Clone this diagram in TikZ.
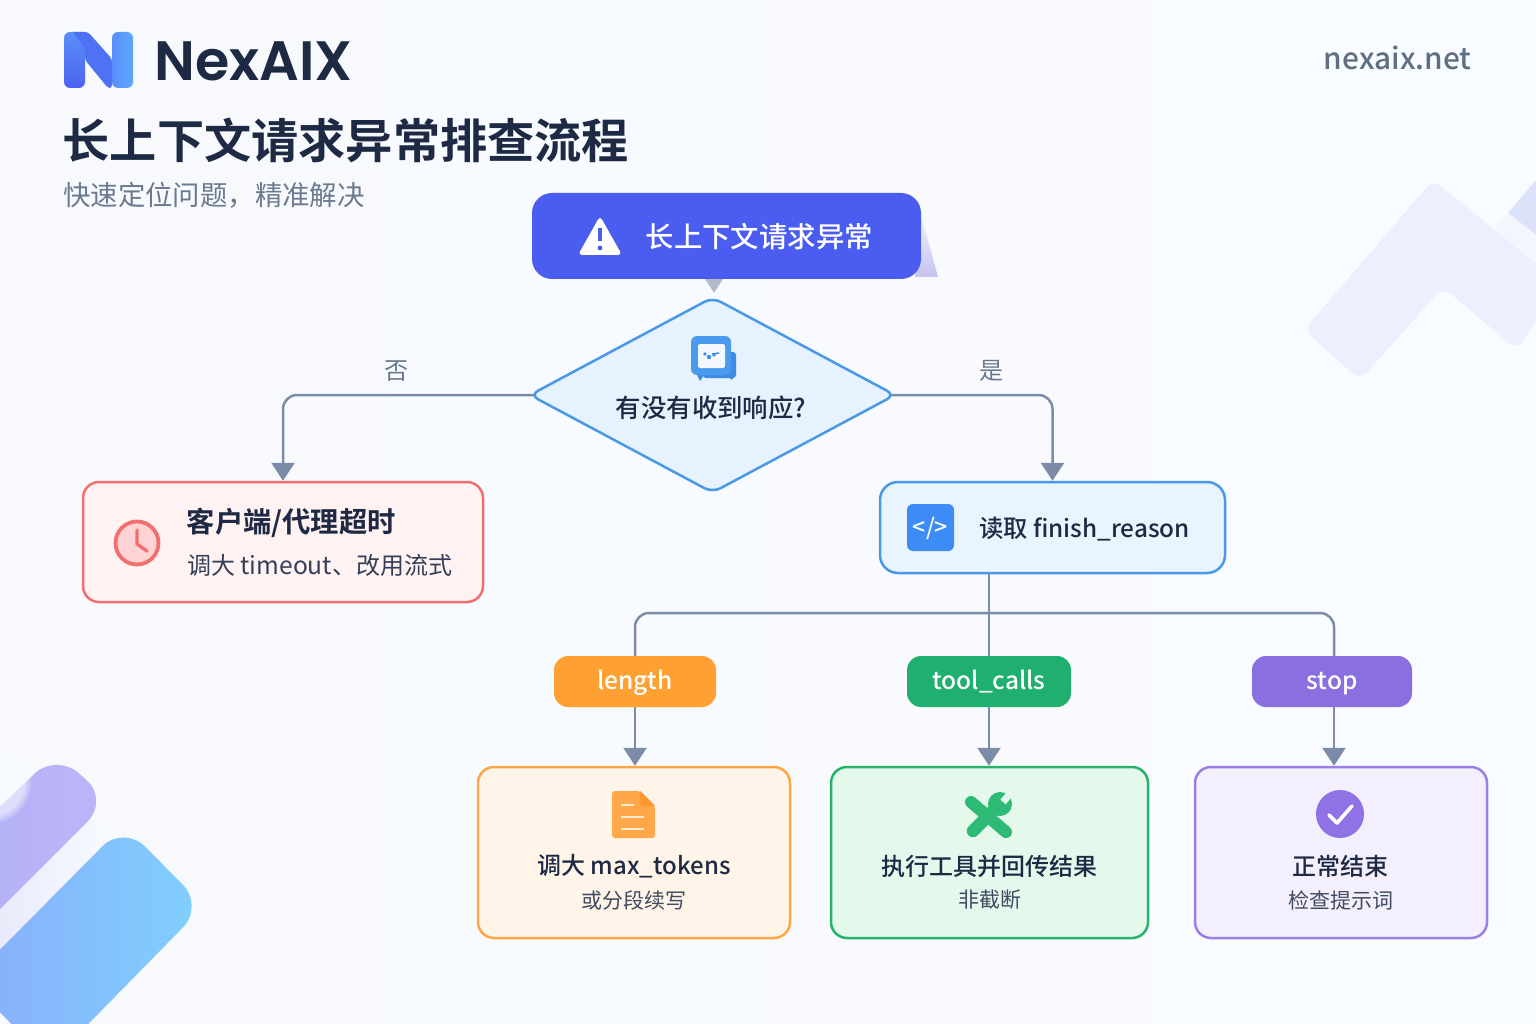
\documentclass[tikz,border=0pt]{standalone}
\usepackage{fontspec}
\usetikzlibrary{arrows.meta,shapes.geometric,calc,fadings}
\setmainfont{Noto Sans CJK SC}[BoldFont={Noto Sans CJK SC Bold}]
\newfontfamily\cjkm{Noto Sans CJK SC Medium}
\newfontfamily\logofont{Poppins SemiBold}
\newcommand{\hexc}[1]{\definecolor{#1}{HTML}{#1}}
\hexc{F7F9FD}\hexc{F8FBFF}\hexc{ECEFFD}\hexc{DDE2FB}\hexc{F4F6FE}\hexc{E9EAFB}
\hexc{AEAEF8}\hexc{BDB5F8}\hexc{C6C2F1}\hexc{F0F0FC}\hexc{3E8BE6}\hexc{4A9BEE}\hexc{F2F8FE}
\hexc{FFD3D3}\hexc{EAF4FE}\hexc{3D8BF5}\hexc{FFA033}\hexc{1FAF6E}\hexc{8B6FE0}
\hexc{FFA84A}\hexc{FF9630}\hexc{FFE9CF}\hexc{2DBA74}\hexc{8F72E6}
\hexc{4C63F0}\hexc{5A90F8}\hexc{5A8FFA}\hexc{5BA9FF}\hexc{4F72F4}
\definecolor{BL}{HTML}{88AEFB}\definecolor{BR}{HTML}{80D0FE}
\definecolor{ink}{HTML}{1E2A44}
\definecolor{subgrey}{HTML}{6B7A90}
\definecolor{lineblue}{HTML}{7C8CA8}
\definecolor{startblue}{HTML}{4A5DF0}
\definecolor{dfill}{HTML}{E6F2FD}
\definecolor{dline}{HTML}{4A98E8}
\definecolor{rfill}{HTML}{FFF2F2}
\definecolor{rline}{HTML}{F07070}
\definecolor{ofill}{HTML}{FFF4E8}
\definecolor{oline}{HTML}{FFA645}
\definecolor{gfill}{HTML}{E4F8EC}
\definecolor{gline}{HTML}{27B26E}
\definecolor{pfill}{HTML}{F3EFFD}
\definecolor{pline}{HTML}{9B7FE3}
\pgfdeclarelayer{back}\pgfdeclarelayer{conn}
\pgfsetlayers{back,conn,main}
\newcommand{\pilltext}[1]{\raisebox{-8pt}[0pt][0pt]{#1}}
\tikzset{
  conn/.style={draw=lineblue,line width=2.5pt,rounded corners=14pt},
  arr/.style={conn,-{Triangle[length=18pt,width=23pt]}},
  card/.style={rectangle,draw,line width=2.5pt,inner sep=0pt,rounded corners=16pt},
  pill/.style={rectangle,inner sep=0pt,rounded corners=14pt,minimum height=51pt,text=white,font=\cjkm\fontsize{24.5}{25}\selectfont},
  txt/.style={inner sep=0pt,text=ink},
  head/.style={txt,font=\cjkm\fontsize{24}{24}\selectfont},
  note/.style={txt,text=ink!85,font=\fontsize{21}{21}\selectfont},
  branch/.style={inner sep=0pt,text=lineblue!85!black,font=\fontsize{24}{24}\selectfont},
}
\begin{document}
\begin{tikzpicture}[x=1pt,y=-1pt]
\useasboundingbox (0,0) rectangle (1536,1024);
\begin{pgfonlayer}{back}
\begin{scope}
\clip (0,0) rectangle (1536,1024);
\shade[left color=F7F9FD,right color=F8FBFF] (0,0) rectangle (1536,1024);
% top-right decoration
\fill[fill=ECEFFD,rounded corners=10pt] (1433,180) -- (1560,283) -- (1517,350) -- (1443,287) -- (1360,380) -- (1304,330) -- cycle;
\fill[fill=DDE2FB] (1508,213) -- (1536,180) -- (1536,235) -- cycle;
\fill[fill=F4F6FE] (1495,229) -- (1508,213) -- (1536,235) -- (1536,262) -- cycle;
% bottom-left decoration
\shade[left color=E9EAFB,right color=F8FBFF] (0,903) -- (88,815) -- (112,838) -- (0,953) -- cycle;
\shade[left color=AEAEF8,right color=BDB5F8,rounded corners=30pt] (56,753) -- (109,800) -- (-51,960) -- (-106,909) -- cycle;
\fill[F8FBFF,path fading=circle with fuzzy edge 20 percent,opacity=.6] (-10,782) circle (42);
\shade[left color=BL,right color=BR,rounded corners=30pt] (123.5,825) -- (204,906) -- (50,1063) -- (-31,981) -- cycle;
\end{scope}
\end{pgfonlayer}

% start node
\shade[top color=F0F0FC,bottom color=C6C2F1] (921,215) -- (938,277) -- (915,277) -- cycle;
\node[rectangle,fill=startblue,rounded corners=20pt,minimum width=389pt,minimum height=86pt,inner sep=0pt] (start) at (726.5,236) {};
\fill[white,rounded corners=4pt] (600,216) -- (622,255) -- (578,255) -- cycle;
\draw[startblue,line width=3.6pt] (600,228) -- (600,241);
\fill[startblue] (600,248) circle (2.4);
\node[txt,text=white,anchor=west,font=\cjkm\fontsize{28.4}{28}\selectfont] (starttext) at (645.5,237) {长上下文请求异常};

% decision
\node[diamond,draw=dline,fill=dfill,line width=2.5pt,inner sep=0pt,minimum width=366pt,minimum height=196pt,aspect=1.87,rounded corners=9pt] (decide) at (712.5,395) {};
\fill[fill=3E8BE6,rounded corners=3pt] (703,352) rectangle (736,378);
\fill[fill=3E8BE6] (697,375) -- (704,375) -- (700,381) -- cycle (726,375) -- (734,375) -- (732,380) -- cycle;
\fill[fill=4A9BEE,rounded corners=6pt] (691,336) rectangle (731,375);
\fill[fill=F2F8FE,rounded corners=2pt] (698,344) rectangle (725,368);
\fill[fill=3E8BE6] (705,354) circle (1.8) (709,357) circle (2.2) (714,355) circle (1.8);
\draw[3E8BE6,line width=1.5pt] (712,354) -- (719,353);
\node[txt,font=\cjkm\fontsize{25.4}{25}\selectfont] (decidetext) at (711,408) {有没有收到响应?};
\node[branch] (no) at (396,371) {否};
\node[branch] (yes) at (991,371) {是};

% timeout
\node[card,draw=rline,fill=rfill,minimum width=400pt,minimum height=120pt] (timeout) at (283,542) {};
\draw[rline,fill=FFD3D3,line width=3.8pt] (137,543) circle (21.5);
\draw[rline,line width=3.4pt,line cap=round,line join=round] (137,530) -- (137,544) -- (147,551);
\node[txt,anchor=west,font=\bfseries\fontsize{28.3}{28}\selectfont] (timeouttitle) at (186.5,523) {客户端/代理超时};
\node[txt,anchor=west,text=ink!90,font=\fontsize{24}{25}\selectfont] (timeoutnote) at (187,565) {调大 {\fontsize{24.6}{25}\selectfont timeout}、改用流式};

% finish
\node[card,draw=dline,fill=EAF4FE,rounded corners=18pt,minimum width=345pt,minimum height=91pt] (finish) at (1052.5,527.5) {};
\fill[fill=3D8BF5,rounded corners=6pt] (907,504) rectangle (954,551);
\node[inner sep=0pt,text=white,font=\cjkm\fontsize{23}{23}\selectfont] (codeglyph) at (930.5,528) {</>};
\node[txt,anchor=west,font=\cjkm\fontsize{24.3}{25}\selectfont] (finishtext) at (979,529) {读取 finish\_reason};
\coordinate (bar) at (989,613);

% pills
\node[pill,fill=FFA033,minimum width=162pt] (plen) at (635,681.5) {\pilltext{length}};
\node[pill,fill=1FAF6E,minimum width=164pt] (ptool) at (989,681.5) {\pilltext{tool\_calls}};
\node[pill,fill=8B6FE0,minimum width=160pt] (pstop) at (1332,681.5) {\pilltext{stop}};

% leaf boxes
\node[card,draw=oline,fill=ofill,minimum width=312pt,minimum height=171pt] (blen) at (634,852.5) {};
\node[card,draw=gline,fill=gfill,minimum width=317pt,minimum height=171pt] (btool) at (989.5,852.5) {};
\node[card,draw=pline,fill=pfill,minimum width=292pt,minimum height=171pt] (bstop) at (1341,852.5) {};

% doc icon
\fill[fill=FFA84A,rounded corners=3pt] (612,791) -- (640,791) -- (655,806) -- (655,838) -- (612,838) -- cycle;
\fill[fill=FF9630] (640,791) -- (655,806) -- (642,806) -- (640,803) -- cycle;
\draw[FFE9CF,line width=2.5pt] (621,805) -- (634,805) (621,817) -- (644,817) (621,829) -- (644,829);
\node[head] (lentitle) at (634,866) {调大 max\_tokens};
\node[note] (lennote) at (634,900) {或分段续写};

% wrench icon
\draw[2DBA74,line width=12.5pt,line cap=round] (973,831) -- (998,806);
\draw[2DBA74,line width=12pt,line cap=round] (971,802) -- (1006,832);
\fill[fill=2DBA74] (1000,804) circle (12);
\draw[gfill,line width=7pt] (1003,802) -- (1014,789);
\node[head] (tooltitle) at (989.5,866) {执行工具并回传结果};
\node[note] (toolnote) at (989.5,900) {非截断};

% check icon
\fill[fill=8F72E6] (1340,814) circle (24);
\draw[white,line width=3.6pt,line cap=round,line join=round] (1329,815) -- (1337,823) -- (1352,806);
\node[head] (stoptitle) at (1340.5,866) {正常结束};
\node[note] (stopnote) at (1340.5,900) {检查提示词};

% connectors
\begin{pgfonlayer}{conn}
\draw[arr,draw=lineblue!60] ([xshift=1.5pt]decide.north |- start.south) -- ([xshift=1.5pt,yshift=3pt]decide.north);
\draw[arr] ([xshift=10pt]decide.west) -| (timeout.north);
\draw[arr] ([xshift=-10pt]decide.east) -| (finish.north);
\draw[conn] (finish.south -| bar) -- (ptool.north);
\draw[conn] (bar) -| (plen.north);
\draw[conn] (bar) -| ([xshift=2pt]pstop.north);
\draw[arr] (plen.south) -- (plen.south |- blen.north);
\draw[arr] (ptool.south) -- (ptool.south |- btool.north);
\draw[arr] ([xshift=2pt]pstop.south) -- ([xshift=2pt]pstop.south |- bstop.north);
\end{pgfonlayer}

% header
\shade[bottom color=4C63F0,top color=5A90F8,rounded corners=6pt] (64,32) rectangle (85,88);
\shade[left color=5A8FFA,right color=5BA9FF,rounded corners=6pt] (112,32) rectangle (133,88);
\fill[fill=4F72F4,rounded corners=3pt] (72,32) -- (88,32) -- (112,59) -- (112,88) -- (108,88) -- (85,60) -- (85,48) -- cycle;
\node[inner sep=0pt,anchor=west,text=ink,font=\logofont\fontsize{55.5}{55}\selectfont] (brand) at (154.5,61) {NexAIX};
\node[inner sep=0pt,anchor=east,text=subgrey!90!black,font=\cjkm\fontsize{29.8}{30}\selectfont] (site) at (1471.5,58) {nexaix.net};
\node[txt,anchor=west,font=\bfseries\fontsize{47.2}{47}\selectfont] (title) at (62.5,140) {长上下文请求异常排查流程};
\node[inner sep=0pt,anchor=west,text=subgrey,font=\fontsize{27.4}{27}\selectfont] (subtitle) at (63,195) {快速定位问题，精准解决};
\end{tikzpicture}
\end{document}
